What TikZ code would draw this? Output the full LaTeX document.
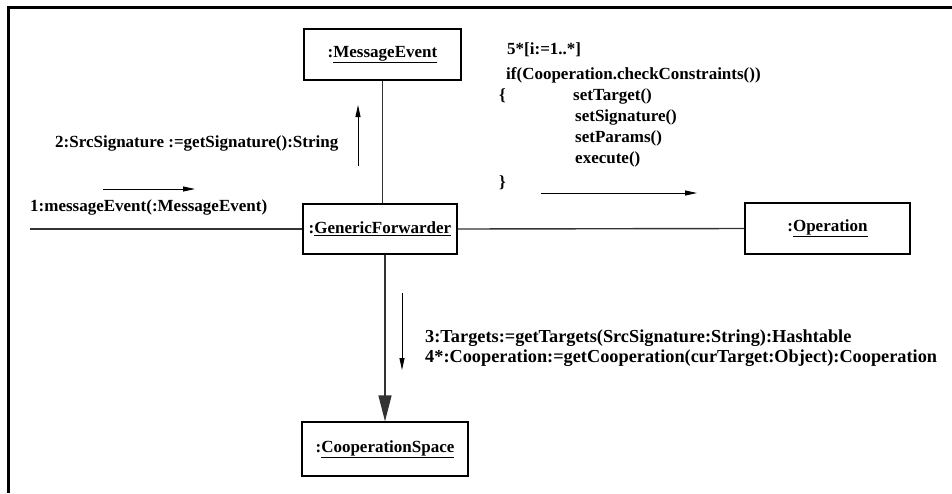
\documentclass[tikz,border=0pt]{standalone}
\usepackage{fontspec}
\setmainfont{Liberation Serif}
\usetikzlibrary{arrows.meta}
\begin{document}
\begin{tikzpicture}[x=1pt,y=-1pt,
  txt/.style={font=\bfseries\fontsize{17}{20}\selectfont, inner sep=0pt},
  bigtxt/.style={font=\bfseries\fontsize{18.3}{21}\selectfont, inner sep=0pt},
  obj/.style={txt, draw=black, line width=1.3pt, inner sep=0pt},
  lbl/.style={txt, anchor=west},
  biglbl/.style={bigtxt, anchor=west},
  link/.style={draw=black!80, line width=1.4pt},
  msg/.style={draw=black, line width=0.9pt, -{Triangle[length=12pt,width=5pt]}},
  create/.style={link, -{Triangle[length=26pt,width=13pt]}}]
\useasboundingbox (0,0) rectangle (952,493);

% outer frame (top and left edges only)
\draw[line width=3pt, black] (952,7) -- (8,7) -- (8,493);

% objects
\node[obj, minimum width=157pt, minimum height=51pt] (me) at (382.5,54.5) {:\underline{MessageEvent}};
\node[obj, minimum width=154pt, minimum height=50pt] (gf) at (380,229) {:\underline{GenericForwarder}};
\node[obj, minimum width=165pt, minimum height=51pt] (op) at (827.5,228.5) {:\underline{Operation}};
\node[obj, minimum width=166pt, minimum height=54pt] (cs) at (385,449) {:\underline{CooperationSpace}};

% links between objects
\coordinate (src) at (30,229);
\draw[link] (src) -- (gf.west);
\draw[link] (gf.east) -- (op.west);
\draw[link] (me.south) -- (me.south |- gf.north);
\draw[create] (gf.south -| cs.north) -- (cs.north);

% message 1
\coordinate (m1a) at (103,189);
\coordinate (m1b) at (195,189);
\draw[msg] (m1a) -- (m1b);
\node[lbl] (t1) at (30,207) {1:messageEvent(:MessageEvent)};

% message 2
\coordinate (m2a) at (358,166);
\coordinate (m2b) at (358,105);
\draw[msg] (m2a) -- (m2b);
\node[lbl] (t2) at (55,143) {2:SrcSignature :=getSignature():String};

% messages 3 and 4
\coordinate (m3a) at (402,293);
\coordinate (m3b) at (402,370);
\draw[msg] (m3a) -- (m3b);
\node[biglbl] (t3) at (425,338) {3:Targets:=getTargets(SrcSignature:String):Hashtable};
\node[biglbl] (t4) at (425,358) {4*:Cooperation:=getCooperation(curTarget:Object):Cooperation};

% message 5
\coordinate (m5a) at (541,193);
\coordinate (m5b) at (697,193);
\draw[msg] (m5a) -- (m5b);
\node[lbl] (t5a) at (507,50) {5*[i:=1..*]};
\node[lbl] (t5b) at (506,75) {if(Cooperation.checkConstraints())};
\node[lbl] (t5c) at (499,96) {\{};
\node[lbl] (t5d) at (573,96) {setTarget()};
\node[lbl] (t5e) at (575,117) {setSignature()};
\node[lbl] (t5f) at (575,138) {setParams()};
\node[lbl] (t5g) at (575,159) {execute()};
\node[lbl] (t5h) at (499,183) {\}};
\end{tikzpicture}
\end{document}
